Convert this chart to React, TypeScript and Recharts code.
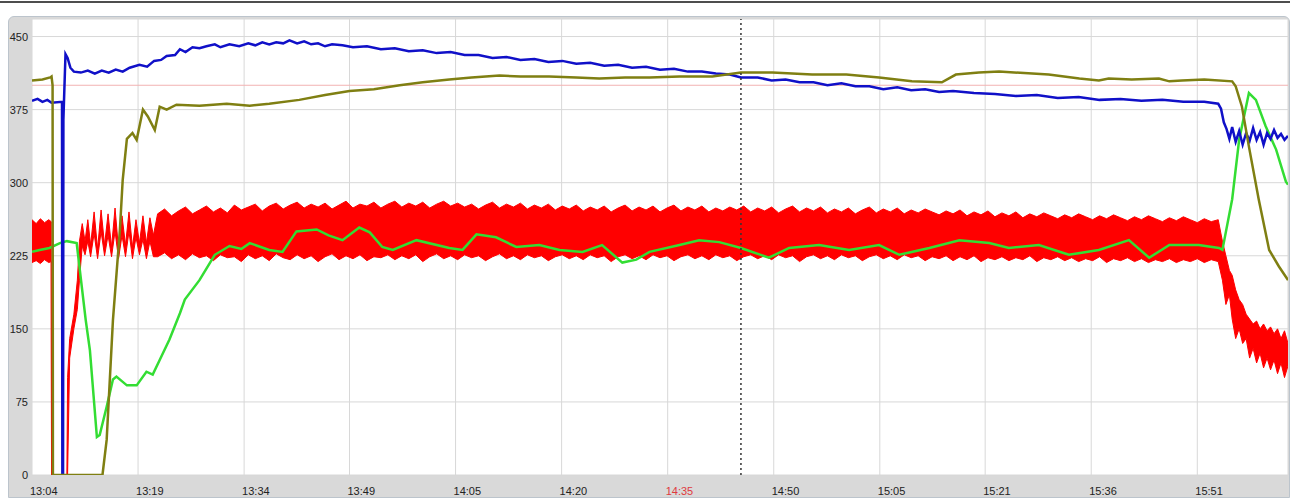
import React from "react";
import {
  ComposedChart,
  Line,
  Area,
  XAxis,
  YAxis,
  CartesianGrid,
  ReferenceLine,
} from "recharts";

// minutes after 13:04
const timeTicks = [0, 15.2, 30.4, 45.5, 60.7, 75.9, 91.1, 106.3, 121.5, 136.6, 151.8, 167];
const timeLabels = ["13:04", "13:19", "13:34", "13:49", "14:05", "14:20", "14:35", "14:50", "15:05", "15:21", "15:36", "15:51"];
const valueTicks = [0, 75, 150, 225, 300, 375, 450];

// [t, value]
const bluePoints = [
  [0, 384], [0.8, 386], [1.5, 383], [2.2, 385], [2.8, 382], [4.3, 383], [4.35, 0], [4.45, 0], [4.5, 365],
  [4.8, 432], [5.1, 428], [5.5, 418], [6.0, 414], [7, 413], [8, 415], [9, 412], [10, 415], [11, 413],
  [12, 416], [13, 414], [14, 418], [15.4, 421], [16.5, 419], [17.5, 425], [18.5, 426], [19.3, 430],
  [20.5, 431], [21.2, 437], [22, 434], [23, 439], [24, 438], [25, 440], [26.2, 442], [27, 439],
  [28.3, 442], [29.7, 440], [31, 443], [32, 441], [33, 444], [34, 442], [35, 444], [36, 443],
  [36.9, 446], [38, 443], [39, 445], [40, 442], [41, 443], [42, 440], [43, 442], [44.5, 441],
  [46, 439], [48, 440], [50, 437], [52, 438], [54, 435], [56, 436], [58, 433], [60, 434], [62, 431],
  [64, 431], [66, 428], [68, 429], [70, 426], [72, 427], [74, 424], [76, 425], [78, 422], [80, 423],
  [82, 420], [84, 421], [86, 418], [88, 419], [90, 416], [92, 417], [94, 414], [96, 414], [98, 412],
  [100, 411], [101.6, 408], [104, 408], [106, 405], [108, 406], [110, 403], [112, 403], [114, 400],
  [116, 402], [118, 399], [120, 399], [122, 396], [124, 398], [126, 395], [128, 396], [130, 393],
  [132, 394], [135, 392], [138, 391], [141, 389], [144, 390], [147, 387], [150, 388], [153, 385],
  [156, 386], [159, 384], [162, 385], [165, 383], [168, 383], [170, 381], [170.4, 376], [170.8, 362],
  [171.2, 355], [171.6, 345], [172, 357], [172.5, 342], [173, 353], [173.5, 339], [174, 351],
  [174.5, 343], [175, 356], [175.5, 344], [176, 352], [176.5, 339], [177, 351], [177.5, 345],
  [178, 354], [178.5, 346], [179, 350], [179.5, 344], [180, 348],
];

const olivePoints = [
  [0, 405], [1.5, 406], [2.6, 408], [2.8, 409], [2.95, 400], [3.0, 0], [10.1, 0], [10.7, 36],
  [11.6, 159], [12.6, 252], [13.0, 303], [13.6, 345], [14.4, 351], [15.0, 344], [15.9, 375],
  [16.6, 368], [17.6, 354], [18.3, 378], [19.3, 375], [20.7, 380], [24, 379], [27.9, 381],
  [31.2, 379], [34, 381], [38.3, 385], [42, 390], [45.5, 394], [49, 396], [52.7, 400], [56, 403],
  [59.8, 406], [63, 408], [67, 410], [70, 409], [74.1, 409], [78, 408], [81.3, 407], [85, 408],
  [88.5, 408], [92.8, 409], [97.5, 409], [101.6, 413], [106.1, 413], [111.8, 411], [116.7, 411],
  [121.4, 408], [126.1, 404], [130.4, 403], [132.4, 411], [135.7, 413], [138.6, 414], [145.7, 411],
  [150.1, 407], [152.9, 405], [154.3, 407], [157.6, 406], [161.5, 407], [163, 404], [164.8, 405],
  [168, 406], [172, 404], [172.5, 399], [173.4, 378], [174.4, 337], [175.8, 283], [177.3, 231],
  [178.7, 214], [180, 200],
];

const greenPoints = [
  [0, 229], [1.1, 231], [2.5, 233], [4, 238], [5, 240], [6.4, 238], [7.7, 159], [8.3, 128],
  [9.3, 39], [9.7, 41], [10.7, 70], [11.6, 98], [12.1, 101], [13.6, 92], [15, 92], [16.4, 106],
  [17.3, 103], [18.3, 118], [19.7, 139], [21.2, 166], [21.9, 180], [24, 200], [26.2, 226],
  [28.3, 235], [30, 232], [31.2, 238], [34, 231], [35.9, 229], [37.9, 250], [40.8, 252],
  [42.5, 246], [44.5, 241], [46.9, 254], [48.4, 249], [50.2, 234], [51.7, 231], [55.1, 241],
  [59.8, 233], [61.7, 231], [63.7, 247], [66.5, 244], [69.4, 234], [72.7, 236], [75.6, 231],
  [78.9, 229], [81.7, 236], [84.6, 218], [86.6, 221], [88.5, 229], [92.8, 236], [95.6, 241],
  [98.5, 239], [101.6, 233], [105.6, 223], [108.5, 233], [112.8, 236], [117.1, 231], [121.4, 236],
  [124.3, 226], [128.6, 233], [132.9, 241], [137.2, 238], [140, 233], [144.3, 236], [148.6, 226],
  [152.9, 231], [157.2, 241], [160.1, 223], [163, 236], [167.2, 236], [170.1, 233], [170.6, 231],
  [172, 283], [173, 344], [174.4, 392], [175.4, 385], [176.8, 358], [178.3, 334], [179.7, 301],
  [180, 298],
];

// [t, low, high] of the red trace's band
const redBand = [
  [0, 218, 262], [0.6, 220, 258], [1.2, 217, 263], [1.8, 221, 259], [2.4, 218, 262], [2.75, 219, 260],
  [2.8, 0, 0], [5.0, 0, 0], [5.1, 0, 100], [5.4, 120, 140], [6.0, 150, 165], [6.5, 170, 200],
  [6.8, 200, 240], [7.2, 235, 258], [7.6, 226, 240], [8.0, 240, 262], [8.4, 224, 236],
  [8.9, 248, 270], [9.4, 222, 232], [9.9, 250, 272], [10.4, 225, 236], [10.9, 246, 268],
  [11.4, 224, 234], [11.9, 250, 274], [12.4, 222, 232], [12.9, 246, 266], [13.4, 224, 236],
  [13.9, 250, 270], [14.4, 222, 234], [14.9, 244, 262], [15.4, 226, 238], [15.9, 242, 266],
  [16.4, 222, 238], [16.9, 240, 264], [17.4, 224, 246],
  [18, 224, 268], [19, 228, 273], [20, 222, 266], [21, 226, 271], [22, 221, 275], [23, 227, 268],
  [24, 223, 272], [25, 225, 276], [26, 220, 270], [27, 226, 274], [28, 223, 269], [29, 224, 277],
  [30, 219, 272], [31, 226, 275], [32, 222, 278], [33, 225, 271], [34, 220, 276], [35, 227, 279],
  [36, 223, 273], [37, 221, 277], [38, 226, 280], [39, 222, 274], [40, 225, 278], [41, 219, 275],
  [42, 224, 279], [43, 227, 273], [44, 221, 277], [45, 225, 281], [46, 222, 274], [47, 226, 278],
  [48, 220, 276], [49, 224, 280], [50, 223, 274], [51, 226, 278], [52, 221, 281], [53, 225, 275],
  [54, 222, 279], [55, 226, 276], [56, 219, 280], [57, 224, 274], [58, 227, 278], [59, 222, 281],
  [60, 225, 276], [61, 221, 279], [62, 226, 275], [63, 223, 278], [64, 225, 273], [65, 220, 277],
  [66, 224, 280], [67, 227, 274], [68, 222, 278], [69, 225, 275], [70, 221, 279], [71, 226, 273],
  [72, 223, 277], [73, 225, 274], [74, 220, 278], [75, 224, 272], [76, 226, 276], [77, 222, 273],
  [78, 225, 277], [79, 221, 271], [80, 226, 275], [81, 223, 272], [82, 225, 276], [83, 219, 270],
  [84, 224, 274], [85, 226, 277], [86, 222, 271], [87, 225, 275], [88, 221, 272], [89, 226, 276],
  [90, 223, 270], [91, 225, 274], [92, 220, 277], [93, 224, 271], [94, 226, 275], [95, 222, 272],
  [96, 225, 276], [97, 221, 270], [98, 226, 274], [99, 223, 271], [100, 225, 275], [101, 220, 272],
  [102, 224, 276], [103, 226, 270], [104, 222, 274], [105, 225, 271], [106, 221, 275], [107, 226, 269],
  [108, 223, 273], [109, 225, 276], [110, 219, 270], [111, 224, 274], [112, 226, 271], [113, 222, 275],
  [114, 225, 269], [115, 221, 273], [116, 226, 270], [117, 223, 274], [118, 225, 268], [119, 220, 272],
  [120, 224, 275], [121, 226, 269], [122, 222, 273], [123, 225, 270], [124, 221, 274], [125, 226, 268],
  [126, 223, 272], [127, 225, 269], [128, 220, 273], [129, 224, 270], [130, 222, 267], [131, 225, 271],
  [132, 220, 268], [133, 224, 272], [134, 221, 266], [135, 225, 270], [136, 219, 267], [137, 223, 271],
  [138, 221, 265], [139, 224, 269], [140, 220, 266], [141, 223, 270], [142, 221, 264], [143, 225, 268],
  [144, 219, 265], [145, 223, 269], [146, 221, 266], [147, 224, 263], [148, 220, 267], [149, 223, 264],
  [150, 219, 268], [151, 222, 265], [152, 220, 262], [153, 224, 266], [154, 218, 263], [155, 222, 267],
  [156, 220, 264], [157, 223, 261], [158, 219, 265], [159, 222, 262], [160, 218, 266], [161, 221, 263],
  [162, 219, 260], [163, 222, 264], [164, 218, 261], [165, 221, 265], [166, 219, 262], [167, 222, 259],
  [168, 218, 263], [169, 221, 260], [170, 219, 262], [170.6, 200, 240], [171.1, 175, 225],
  [171.6, 185, 210], [172, 160, 205], [172.5, 140, 190], [173, 150, 180], [173.5, 135, 175],
  [174, 140, 165], [174.5, 120, 160], [175, 130, 155], [175.5, 115, 158], [176, 125, 150],
  [176.5, 110, 155], [177, 120, 148], [177.5, 108, 152], [178, 118, 145], [178.5, 104, 150],
  [179, 115, 140], [179.5, 100, 148], [180, 112, 135],
];

const cursorTime = 101.6;
const limitValue = 400;

const toRows = (pts: number[][]) => pts.map(([t, v]) => ({ t, v }));
const blueData = toRows(bluePoints);
const oliveData = toRows(olivePoints);
const greenData = toRows(greenPoints);
const redData = redBand.map(([t, lo, hi]) => ({ t, range: [lo, hi] }));

const FONT = "'Liberation Sans', Arial, sans-serif";

function TimeTick({ x, payload }: any) {
  const i = timeTicks.indexOf(payload.value);
  const label = timeLabels[i] ?? "";
  return (
    <text x={x - 2} y={495} fontSize={11} fontFamily={FONT} fill={label === "14:35" ? "#e0393e" : "#222"}>
      {label}
    </text>
  );
}

function ValueTick({ y, payload }: any) {
  return (
    <text x={28} y={y + 4} textAnchor="end" fontSize={11} fontFamily={FONT} fill="#222">
      {payload.value}
    </text>
  );
}

export default function App() {
  return (
    <div style={{ position: "absolute", left: 0, top: 0, width: 1290, height: 498, background: "#fff", overflow: "hidden" }}>
      <div style={{ position: "absolute", left: 0, top: 1, width: 1290, height: 2, background: "#4d4d4d" }} />
      <div
        style={{
          position: "absolute",
          left: 8,
          top: 16,
          width: 1282,
          height: 482,
          background: "#d9d9d9",
          border: "1px solid #bcc4cc",
          borderRadius: "6px 6px 0 0",
          boxSizing: "border-box",
        }}
      />
      <ComposedChart
        width={1290}
        height={498}
        margin={{ top: 19, right: 2, bottom: 0, left: 0 }}
        style={{ position: "absolute", left: 0, top: 0 }}
      >
        <CartesianGrid fill="#fff" stroke="#d8d8d8" strokeWidth={1} />
        <XAxis
          dataKey="t"
          type="number"
          domain={[0, 180]}
          ticks={timeTicks}
          tick={<TimeTick />}
          height={23}
          axisLine={false}
          tickLine={false}
          allowDataOverflow
          interval={0}
        />
        <YAxis
          type="number"
          domain={[0, 468]}
          ticks={valueTicks}
          tick={<ValueTick />}
          width={32}
          axisLine={false}
          tickLine={false}
          allowDataOverflow
          interval={0}
        />
        <ReferenceLine y={limitValue} stroke="#f2b3b3" strokeWidth={1} />
        <Area
          data={redData}
          dataKey="range"
          type="linear"
          stroke="#ff0000"
          strokeWidth={1}
          fill="#ff0000"
          fillOpacity={1}
          dot={false}
          activeDot={false}
          isAnimationActive={false}
        />
        <Line data={greenData} dataKey="v" type="linear" stroke="#33dd33" strokeWidth={2.5} dot={false} activeDot={false} isAnimationActive={false} />
        <Line data={blueData} dataKey="v" type="linear" stroke="#1010c8" strokeWidth={2.5} dot={false} activeDot={false} isAnimationActive={false} />
        <Line data={oliveData} dataKey="v" type="linear" stroke="#7f7f12" strokeWidth={2.5} dot={false} activeDot={false} isAnimationActive={false} />
        <ReferenceLine x={cursorTime} stroke="#333" strokeWidth={1.5} strokeDasharray="2 3" />
      </ComposedChart>
    </div>
  );
}
